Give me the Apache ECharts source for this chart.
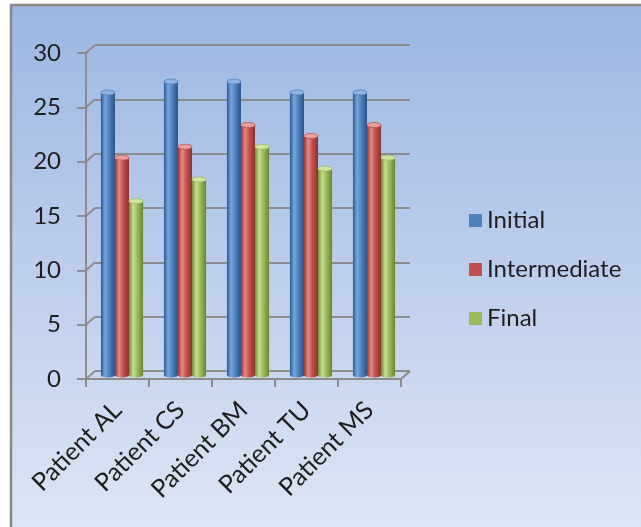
<!DOCTYPE html>
<html>
<head>
<meta charset="utf-8">
<script src="https://cdn.jsdelivr.net/npm/echarts@6/dist/echarts.min.js"></script>
<style>
  html, body { margin: 0; padding: 0; background: #ffffff; }
  #chart { width: 641px; height: 527px; }
</style>
</head>
<body>
<div id="chart"></div>
<script>
// Chart data
const categories = ['Patient AL', 'Patient CS', 'Patient BM', 'Patient TU', 'Patient MS'];
const initialValues = [26, 27, 27, 26, 26];
const intermediateValues = [20, 21, 23, 22, 23];
const finalValues = [16, 18, 21, 19, 20];
const yTicks = [0, 5, 10, 15, 20, 25, 30];

const FONT = 'Lato';
const GRID_GRAY = '#8c8c8c';
const DEPTH_X = -9, DEPTH_Y = 8;

// Shaded cylinder palettes: [edge, highlight, body, edge, cap]
const palettes = [
  ['#2d5a93', '#78a5dd', '#4f81bd', '#2a5189', '#8fb4e3'],
  ['#953633', '#e38a87', '#c0504d', '#8c312e', '#e6a19f'],
  ['#718b37', '#c6df8e', '#9bbb59', '#6a8433', '#cfe3a2']
];
const seriesColors = ['#4f81bd', '#c0504d', '#9bbb59'];

function cylinderSeries(name, values, slot) {
  const p = palettes[slot];
  return {
    name: name,
    type: 'custom',
    xAxisIndex: 2,
    yAxisIndex: 2,
    itemStyle: { color: seriesColors[slot] },
    clip: false,
    z: 5,
    data: values.map((v, i) => [i, v]),
    renderItem: function (params, api) {
      const idx = api.value(0);
      const val = api.value(1);
      const top = api.coord([idx, val]);
      const base = api.coord([idx, 0]);
      const band = api.size([1, 0])[0];
      const w = band * 0.223;
      const x0 = top[0] - 1.5 * w + slot * w;
      const grad = {
        type: 'linear', x: 0, y: 0, x2: 1, y2: 0,
        colorStops: [
          { offset: 0, color: p[0] },
          { offset: 0.3, color: p[1] },
          { offset: 0.6, color: p[2] },
          { offset: 1, color: p[3] }
        ]
      };
      const ry = 2.5;
      return {
        type: 'group',
        children: [
          { type: 'ellipse', shape: { cx: x0 + w / 2, cy: base[1], rx: w / 2, ry: ry }, style: { fill: grad } },
          { type: 'rect', shape: { x: x0, y: top[1], width: w, height: base[1] - top[1] }, style: { fill: grad } },
          { type: 'ellipse', shape: { cx: x0 + w / 2, cy: top[1], rx: w / 2, ry: ry }, style: { fill: p[4], stroke: p[2], lineWidth: 0.8 } }
        ]
      };
    }
  };
}

const chart = echarts.init(document.getElementById('chart'), null, { renderer: 'canvas' });

const option = {
  animation: false,
  backgroundColor: '#ffffff',
  graphic: [{
    type: 'rect',
    z: -100,
    silent: true,
    shape: { x: 11, y: 5, width: 660, height: 560 },
    style: {
      fill: {
        type: 'linear', x: 0, y: 0, x2: 0, y2: 1,
        colorStops: [
          { offset: 0, color: '#9cb6e3' },
          { offset: 1, color: '#e1e9f5' }
        ]
      },
      stroke: '#888888',
      lineWidth: 2.5
    }
  }],
  legend: {
    orient: 'vertical',
    left: 464,
    top: 203,
    icon: 'rect',
    itemWidth: 13,
    itemHeight: 13,
    itemGap: 24,
    data: ['Initial', 'Intermediate', 'Final'],
    textStyle: { fontFamily: FONT, fontSize: 24, color: '#1e1e1e', lineHeight: 25 }
  },
  grid: [
    // back wall
    { left: 95, top: 45, right: 231, bottom: 156 },
    // front axes
    { left: 86, top: 53, right: 240, bottom: 148 },
    // bars (mid depth)
    { left: 90.5, top: 49, right: 235.5, bottom: 152 }
  ],
  xAxis: [
    { gridIndex: 0, type: 'category', data: categories, show: false },
    {
      gridIndex: 1, type: 'category', data: categories,
      axisLine: { show: true, lineStyle: { color: GRID_GRAY, width: 2 } },
      axisTick: { show: true, length: 8, lineStyle: { color: GRID_GRAY, width: 2 } },
      axisLabel: { rotate: 45, margin: 27, fontFamily: FONT, fontSize: 25, color: '#1e1e1e' },
      splitLine: { show: false }
    },
    { gridIndex: 2, type: 'category', data: categories, show: false }
  ],
  yAxis: [
    {
      gridIndex: 0, type: 'value', min: 0, max: 30, interval: 5,
      axisLine: { show: false }, axisTick: { show: false }, axisLabel: { show: false },
      splitLine: { show: true, lineStyle: { color: GRID_GRAY, width: 2 } }
    },
    {
      gridIndex: 1, type: 'value', min: 0, max: 30, interval: 5,
      axisLine: { show: true, lineStyle: { color: GRID_GRAY, width: 2 } },
      axisTick: { show: true, length: 9, lineStyle: { color: GRID_GRAY, width: 2 } },
      axisLabel: { margin: 25, fontFamily: FONT, fontSize: 24, color: '#1e1e1e' },
      splitLine: { show: false }
    },
    { gridIndex: 2, type: 'value', min: 0, max: 30, interval: 5, show: false, splitLine: { show: false } }
  ],
  series: [
    {
      // depth connectors joining front ticks to back-wall gridlines
      type: 'custom',
      xAxisIndex: 0,
      yAxisIndex: 0,
      silent: true,
      clip: false,
      z: 1,
      data: yTicks.map(v => [0, v]),
      renderItem: function (params, api) {
        const v = api.value(1);
        const y = api.coord([0, v])[1];
        const cs = params.coordSys;
        const style = { stroke: GRID_GRAY, lineWidth: 2 };
        const children = [{
          type: 'line',
          shape: { x1: cs.x, y1: y, x2: cs.x + DEPTH_X, y2: y + DEPTH_Y },
          style: style
        }];
        if (v === 0) {
          children.push({
            type: 'line',
            shape: { x1: cs.x + cs.width, y1: y, x2: cs.x + cs.width + DEPTH_X, y2: y + DEPTH_Y },
            style: style
          });
        }
        return { type: 'group', children: children };
      }
    },
    cylinderSeries('Initial', initialValues, 0),
    cylinderSeries('Intermediate', intermediateValues, 1),
    cylinderSeries('Final', finalValues, 2)
  ]
};

chart.setOption(option);
</script>
</body>
</html>
